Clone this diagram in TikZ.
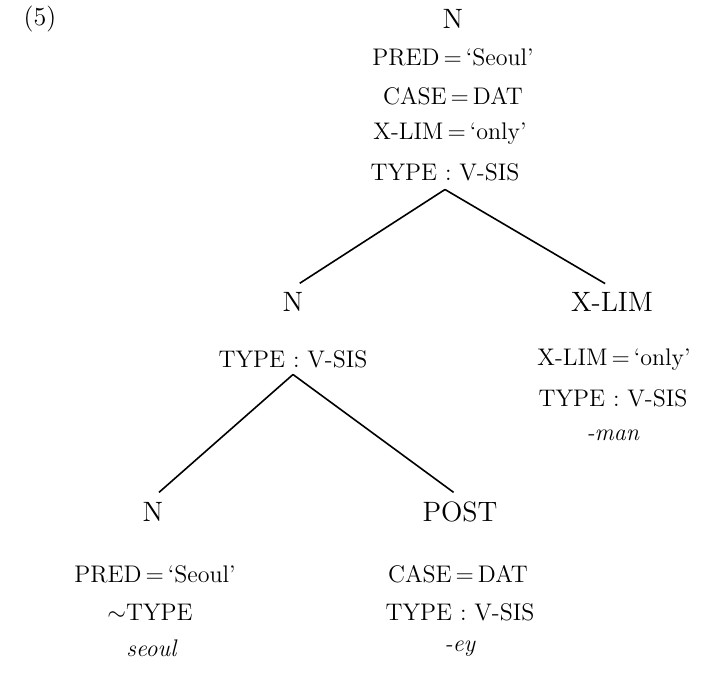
\documentclass[tikz,border=0pt]{standalone}
\usepackage{tikz}
\usetikzlibrary{positioning}
\tikzstyle{feat}=[inner sep=1pt, font=\fontsize{12}{14}\selectfont]
\tikzstyle{cat}=[inner sep=2pt, font=\fontsize{14}{16}\selectfont]
\begin{document}
\begin{tikzpicture}[x=0.5pt, y=-0.5pt, thick]
    \useasboundingbox (0,0) rectangle (705,680);
    \node[feat, font=\fontsize{13}{15}\selectfont] (ex) at (40,19) {(5)};
    % top node and its features
    \node[cat] (n0) at (453,19) {N};
    \node[feat] (n0a) at (453,57) {PRED\,=\,`Seoul'};
    \node[feat] (n0b) at (453,96) {CASE\,=\,DAT};
    \node[feat] (n0c) at (450,134) {X-LIM\,=\,`only'};
    \node[feat] (n0d) at (445,172) {TYPE : V-SIS};
    \coordinate[below=3pt of n0d] (t0);
    % second level
    \node[cat] (n1) at (293,302) {N};
    \node[feat] (n1a) at (293,359) {TYPE : V-SIS};
    \coordinate[below=2pt of n1a] (t1);
    \node[cat] (x1) at (612,302) {X-LIM};
    \node[feat] (x1a) at (614,360) {X-LIM\,=\,`only'};
    \node[feat] (x1b) at (613,398) {TYPE : V-SIS};
    \node[feat] (x1c) at (613,435) {\textit{-man}};
    % third level
    \node[cat] (n2) at (153,512) {N};
    \node[feat] (n2a) at (155,574) {PRED\,=\,`Seoul'};
    \node[feat] (n2b) at (150,612) {$\sim$TYPE};
    \node[feat] (n2c) at (152,648) {\textit{seoul}};
    \node[cat] (p2) at (460,512) {POST};
    \node[feat] (p2a) at (458,574) {CASE\,=\,DAT};
    \node[feat] (p2b) at (460,612) {TYPE : V-SIS};
    \node[feat] (p2c) at (460,649) {\textit{-ey}};

    \path[shorten >=4pt] (t0) edge (n1.north);
    \path[shorten >=4pt] (t0) edge (x1.north);
    \path[shorten >=4pt] (t1) edge (n2.north);
    \path[shorten >=4pt] (t1) edge (p2.north);
\end{tikzpicture}
\end{document}
